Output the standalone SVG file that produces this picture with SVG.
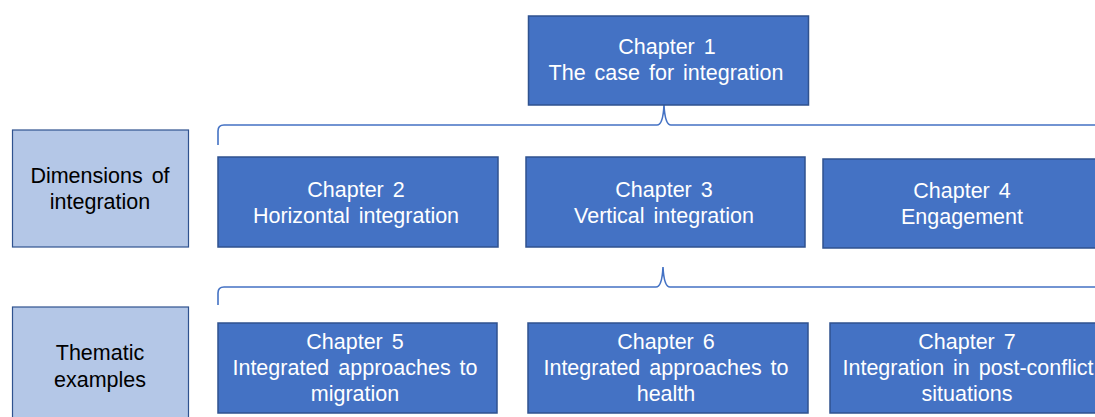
<svg xmlns="http://www.w3.org/2000/svg" width="1095" height="417" viewBox="0 0 1095 417">
<style>
.ch{fill:#4472C4;stroke:#2F528F;stroke-width:1.5}
.lb{fill:#B4C7E7;stroke:#2F528F;stroke-width:1.2}
.wt{fill:#FFFFFF;font-family:"Liberation Sans",Arial,sans-serif;font-size:21.5px;text-anchor:middle;word-spacing:3px}
.bt{fill:#000000;font-family:"Liberation Sans",Arial,sans-serif;font-size:21.5px;text-anchor:middle;word-spacing:3px}
.br{fill:none;stroke:#4472C4;stroke-width:1.6}
</style>
<rect width="1095" height="417" fill="#FFFFFF"/>
<g id="connectors">
<path class="br" d="M218,145 L218,131 Q218,125 224,125 L657,125 Q663,125 664,105 Q665,125 671,125 L1104,125 Q1110,125 1110,131 L1110,145"/>
<path class="br" d="M218,305 L218,293 Q218,287 224,287 L656,287 Q662,287 663,267 Q664,287 670,287 L1102,287 Q1108,287 1108,293 L1108,305"/>
</g>
<g id="ch1">
<rect class="ch" x="528.5" y="16" width="280" height="89"/>
<text class="wt" x="667" y="54">Chapter 1</text>
<text class="wt" x="666" y="80" word-spacing="1">The case for integration</text>
</g>
<g id="dim">
<rect class="lb" x="12.5" y="130" width="176" height="117"/>
<text class="bt" x="100" y="183" word-spacing="4">Dimensions of</text>
<text class="bt" x="100" y="209">integration</text>
</g>
<g id="ch2">
<rect class="ch" x="218" y="157" width="280" height="90"/>
<text class="wt" x="356" y="197">Chapter 2</text>
<text class="wt" x="356" y="223">Horizontal integration</text>
</g>
<g id="ch3">
<rect class="ch" x="526" y="157" width="279" height="90"/>
<text class="wt" x="664" y="197">Chapter 3</text>
<text class="wt" x="664" y="223">Vertical integration</text>
</g>
<g id="ch4">
<rect class="ch" x="823" y="159" width="280" height="89"/>
<text class="wt" x="962" y="198">Chapter 4</text>
<text class="wt" x="962" y="224">Engagement</text>
</g>
<g id="them">
<rect class="lb" x="12.5" y="307" width="176" height="120"/>
<text class="bt" x="100" y="360">Thematic</text>
<text class="bt" x="100" y="387">examples</text>
</g>
<g id="ch5">
<rect class="ch" x="218" y="323" width="279" height="90"/>
<text class="wt" x="355" y="349">Chapter 5</text>
<text class="wt" x="355" y="375" word-spacing="4">Integrated approaches to</text>
<text class="wt" x="355" y="401">migration</text>
</g>
<g id="ch6">
<rect class="ch" x="528" y="323" width="280" height="90"/>
<text class="wt" x="666" y="349">Chapter 6</text>
<text class="wt" x="666" y="375" word-spacing="4">Integrated approaches to</text>
<text class="wt" x="666" y="401">health</text>
</g>
<g id="ch7">
<rect class="ch" x="830" y="323" width="280" height="90"/>
<text class="wt" x="967" y="349">Chapter 7</text>
<text class="wt" x="968" y="375">Integration  in post-conflict</text>
<text class="wt" x="967" y="401">situations</text>
</g>
</svg>
